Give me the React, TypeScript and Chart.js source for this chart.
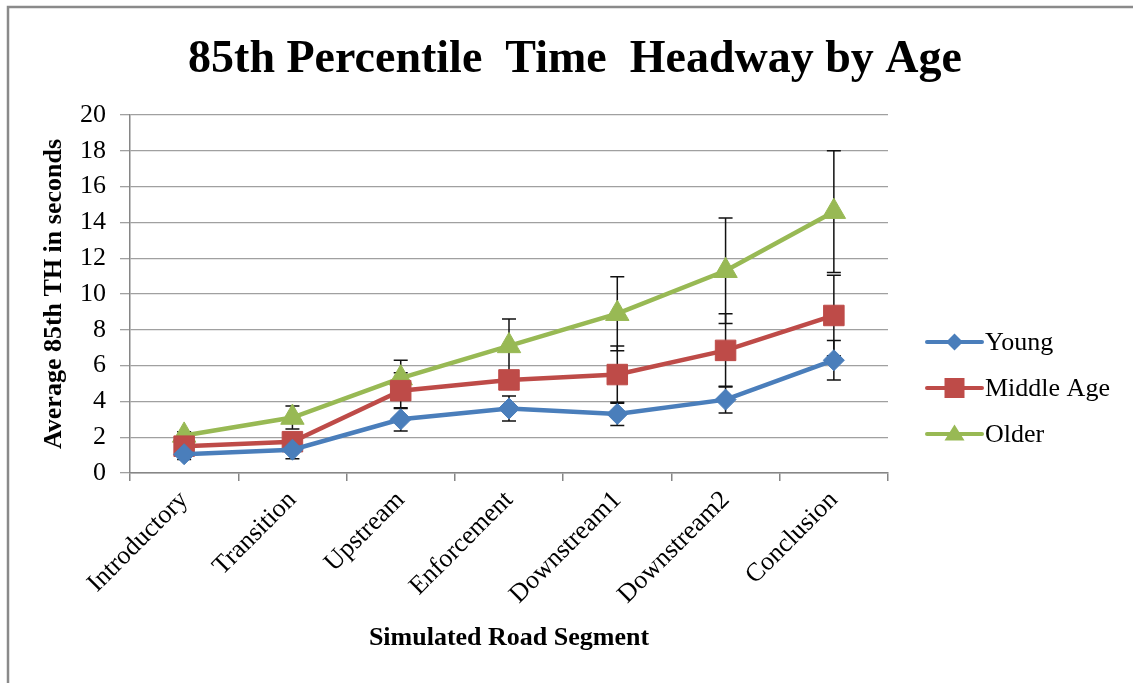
import { useEffect, useRef } from 'react';
import { Chart, registerables } from 'chart.js';

Chart.register(...registerables);

const FONT = "'Liberation Serif', 'Times New Roman', serif";

const titleText = '85th Percentile  Time  Headway by Age';
const categories = ['Introductory', 'Transition', 'Upstream', 'Enforcement', 'Downstream1', 'Downstream2', 'Conclusion'];
const yTicks = [0, 2, 4, 6, 8, 10, 12, 14, 16, 18, 20];

const young = [1.05, 1.3, 3.0, 3.6, 3.3, 4.1, 6.3];
const youngErr = [0.3, 0.5, 0.65, 0.7, 0.65, 0.75, 1.1];
const middle = [1.5, 1.75, 4.6, 5.2, 5.5, 6.85, 8.8];
const middleErr = [0.3, 0.4, 1.0, 0.5, 1.6, 2.05, 2.25];
const older = [2.1, 3.1, 5.3, 7.1, 8.9, 11.3, 14.6];
const olderErr = [0.2, 0.64, 1.0, 1.5, 2.07, 2.95, 3.4];

const BLUE = '#4A7EBB';
const RED = '#BE4B48';
const GREEN = '#98B954';

const framePlugin = {
  id: 'frame',
  beforeDraw(chart: any) {
    const ctx = chart.ctx;
    ctx.save();
    ctx.fillStyle = '#fff';
    ctx.fillRect(0, 0, chart.width, chart.height);
    ctx.strokeStyle = '#8a8a8a';
    ctx.lineWidth = 2.5;
    ctx.beginPath();
    ctx.moveTo(8, chart.height + 5);
    ctx.lineTo(8, 7);
    ctx.lineTo(chart.width + 5, 7);
    ctx.stroke();
    ctx.fillStyle = '#000';
    ctx.font = `bold 46px ${FONT}`;
    ctx.textAlign = 'center';
    ctx.textBaseline = 'alphabetic';
    ctx.fillText(titleText, 575, 72);
    ctx.restore();
  },
};

const errorBarPlugin = {
  id: 'errorBars',
  beforeDatasetsDraw(chart: any) {
    const ctx = chart.ctx;
    const xs = chart.scales.x;
    const ys = chart.scales.y;
    ctx.save();
    ctx.strokeStyle = '#111';
    ctx.lineWidth = 1.5;
    chart.data.datasets.forEach((ds: any) => {
      const errs: number[] = ds.errors || [];
      ds.data.forEach((v: number, i: number) => {
        const e = errs[i];
        if (e == null) return;
        const x = xs.getPixelForValue(i);
        const yt = ys.getPixelForValue(v + e);
        const yb = ys.getPixelForValue(v - e);
        ctx.beginPath();
        ctx.moveTo(x, yt);
        ctx.lineTo(x, yb);
        ctx.moveTo(x - 7, yt);
        ctx.lineTo(x + 7, yt);
        ctx.moveTo(x - 7, yb);
        ctx.lineTo(x + 7, yb);
        ctx.stroke();
      });
    });
    ctx.restore();
  },
};

function drawMarker(ctx: CanvasRenderingContext2D, style: string, x: number, y: number, r: number) {
  ctx.beginPath();
  if (style === 'rectRot') {
    ctx.moveTo(x, y - r);
    ctx.lineTo(x + r, y);
    ctx.lineTo(x, y + r);
    ctx.lineTo(x - r, y);
  } else if (style === 'rect') {
    ctx.rect(x - r, y - r, 2 * r, 2 * r);
  } else {
    const h = r * 1.6;
    ctx.moveTo(x, y - h * 0.6);
    ctx.lineTo(x + r, y + h * 0.4);
    ctx.lineTo(x - r, y + h * 0.4);
  }
  ctx.closePath();
  ctx.fill();
}

const legendPlugin = {
  id: 'customLegend',
  afterDraw(chart: any) {
    const ctx = chart.ctx;
    const area = chart.chartArea;
    const x0 = area.right + 39;
    const y0 = area.top + 227;
    const sizes: Record<string, number> = { rectRot: 8.5, rect: 10, triangle: 10 };
    ctx.save();
    chart.data.datasets.forEach((ds: any, i: number) => {
      const y = y0 + i * 46;
      ctx.strokeStyle = ds.borderColor;
      ctx.lineWidth = 4;
      ctx.lineCap = 'round';
      ctx.beginPath();
      ctx.moveTo(x0, y);
      ctx.lineTo(x0 + 55, y);
      ctx.stroke();
      ctx.fillStyle = ds.borderColor;
      drawMarker(ctx, ds.pointStyle, x0 + 27.5, y, sizes[ds.pointStyle]);
      ctx.fillStyle = '#000';
      ctx.font = `26px ${FONT}`;
      ctx.textBaseline = 'middle';
      ctx.textAlign = 'left';
      ctx.fillText(ds.label, x0 + 58, y + 1);
    });
    ctx.restore();
  },
};

export default function App() {
  const ref = useRef<HTMLCanvasElement>(null);
  useEffect(() => {
    document.body.style.margin = '0';
    const mk = (label: string, data: number[], errors: number[], color: string, pointStyle: string, radius: number) => ({
      label,
      data,
      errors,
      borderColor: color,
      backgroundColor: color,
      pointBackgroundColor: color,
      pointBorderColor: color,
      pointBorderWidth: 1,
      borderWidth: 4.5,
      pointStyle,
      pointRadius: radius,
      pointHoverRadius: radius,
      tension: 0,
      fill: false,
    });
    const chart = new Chart(ref.current!, {
      type: 'line',
      data: {
        labels: categories,
        datasets: [
          mk('Young', young, youngErr, BLUE, 'rectRot', 10.5),
          mk('Middle Age', middle, middleErr, RED, 'rect', 14.5),
          mk('Older', older, olderErr, GREEN, 'triangle', 13.5),
        ] as any,
      },
      options: {
        responsive: false,
        animation: false,
        layout: { padding: { left: 10, top: 115, right: 245, bottom: 0 } },
        plugins: {
          legend: { display: false },
          tooltip: { enabled: false },
          title: { display: false },
        },
        scales: {
          x: {
            type: 'category',
            offset: true,
            grid: { display: true, drawOnChartArea: false, drawTicks: true, tickLength: 8, color: '#868686', offset: true, lineWidth: 1.5 },
            border: { display: true, color: '#868686', width: 1.5 },
            ticks: { font: { family: FONT, size: 26 }, color: '#000', maxRotation: 45, minRotation: 45, padding: 4, autoSkip: false },
            title: {
              display: true,
              text: 'Simulated Road Segment',
              color: '#000',
              font: { family: FONT, size: 26, weight: 'bold' },
              padding: { top: 0, bottom: 29 },
            },
            afterFit: (s: any) => {
              s.height = 210;
              s.paddingLeft = 0;
              s.paddingRight = 0;
            },
          } as any,
          y: {
            min: 0,
            max: 20,
            afterBuildTicks: (s: any) => {
              s.ticks = yTicks.map((v) => ({ value: v }));
            },
            ticks: { font: { family: FONT, size: 26 }, color: '#000', padding: 14 },
            grid: { color: '#a0a0a0', tickLength: 10, lineWidth: 1.3 },
            border: { display: true, color: '#868686', width: 1.5 },
            title: {
              display: true,
              text: 'Average 85th TH in seconds',
              color: '#000',
              font: { family: FONT, size: 26, weight: 'bold' },
              padding: { top: 29, bottom: 0 },
            },
            afterFit: (s: any) => {
              s.width = 120;
              s.paddingTop = 0;
              s.paddingBottom = 0;
            },
          } as any,
        },
      },
      plugins: [framePlugin, errorBarPlugin, legendPlugin],
    });
    return () => chart.destroy();
  }, []);
  return (
    <div style={{ width: 1133, height: 683, position: 'relative' }}>
      <canvas ref={ref} width={1133} height={683} style={{ width: 1133, height: 683, display: 'block' }} />
    </div>
  );
}
